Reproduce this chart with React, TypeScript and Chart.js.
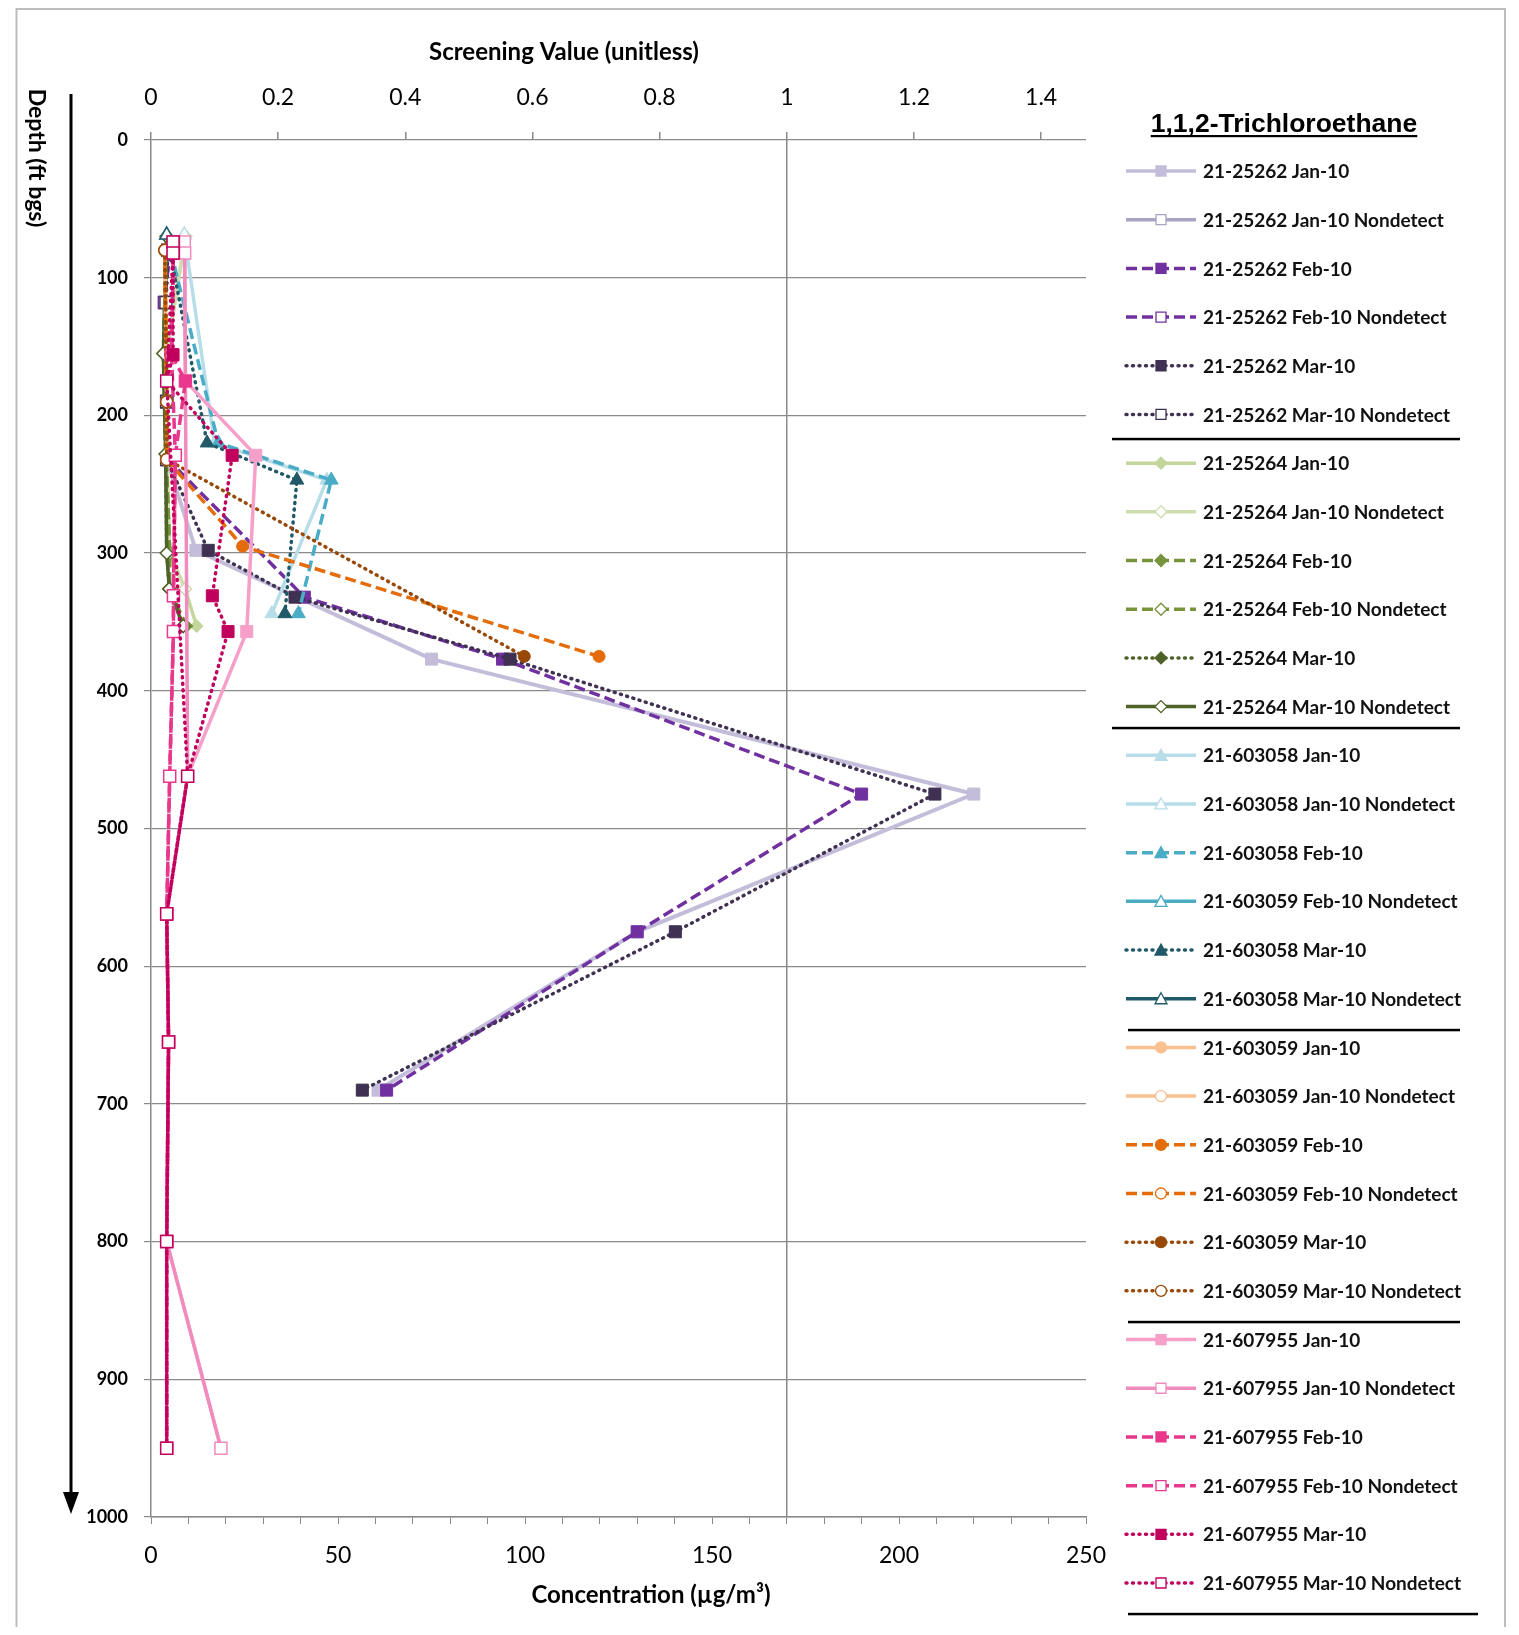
import React, { useEffect, useRef } from 'react';
import { Chart, registerables } from 'chart.js';

Chart.register(...registerables);

// ---------------- DATA ----------------
// Depths (ft bgs) sampled in each well
const depth25262 = [80, 118, 190, 232, 298, 332, 377, 475, 575, 690];
const depth25264 = [70, 155, 228, 300, 326, 353];
const depth603058 = [69, 220, 247, 344];
const depth603059 = [80, 190, 232, 295, 375];
const depth607955 = [74, 82, 156, 175, 229, 331, 357, 462, 562, 655, 800, 950];

// Concentrations (µg/m³); null = not sampled
const conc25262Jan = [4.5, 3.6, 4.2, 4.2, 12, null, 75, 220, 130, 60.7];
const conc25262Feb = [5, 3.6, 4.2, 4.5, null, 41, 94, 190, 130, 63];
const conc25262Mar = [4.5, 4, 4.2, 4.2, 15.3, 38.5, 96, 209.6, 140.2, 56.5];
const conc25264Jan = [9.2, 4.2, 4.2, 5, 9.1, 12.2];
const conc25264Feb = [4.2, 3.3, 4, 5, 4.9, 9.5];
const conc25264Mar = [4.2, 3.3, 3.9, 4.2, 4.9, 8.6];
const conc603058Jan = [8.9, 17, 47, 32.3];
const conc603058Feb = [4.2, 18, 48.2, 39.4];
const conc603058Mar = [4.2, 15, 39, 35.8];
const conc603059Jan = [3.7, 4.2, 4.2, null, null];
const conc603059Feb = [3.7, 4.2, 4.2, 24.5, 119.8];
const conc603059Mar = [3.7, 4.2, 4.2, null, 99.8];
const conc607955Jan = [8.9, 9, null, 9.2, 28, null, 25.6, 9.8, 4.2, 4.7, 4.2, 18.7];
const conc607955Feb = [6, 6, 5.5, 9.2, 6.5, 6, 6, 5, 4.2, 4.7, 4.2, 4.2];
const conc607955Mar = [5.9, 5.9, 5.9, 4.2, 21.7, 16.4, 20.6, 9.8, 4.2, 4.7, 4.2, 4.2];

// Nondetect flags (1 = nondetect)
const nd25262Jan = [1, 1, 1, 1, 0, 0, 0, 0, 0, 0];
const nd25262Feb = [1, 1, 1, 1, 0, 0, 0, 0, 0, 0];
const nd25262Mar = [1, 1, 1, 1, 0, 0, 0, 0, 0, 0];
const nd25264Jan = [1, 1, 1, 1, 1, 0];
const nd25264Feb = [1, 1, 1, 1, 1, 0];
const nd25264Mar = [1, 1, 1, 1, 1, 1];
const nd603058Jan = [1, 0, 0, 0];
const nd603058Feb = [1, 0, 0, 0];
const nd603058Mar = [1, 0, 0, 0];
const nd603059Jan = [1, 1, 1, 0, 0];
const nd603059Feb = [1, 1, 1, 0, 0];
const nd603059Mar = [1, 1, 1, 0, 0];
const nd607955Jan = [1, 1, 0, 1, 0, 0, 0, 1, 1, 1, 1, 1];
const nd607955Feb = [1, 1, 1, 0, 1, 1, 1, 1, 1, 1, 1, 1];
const nd607955Mar = [1, 1, 0, 1, 0, 0, 0, 1, 1, 1, 1, 1];

// Series labels
const labels = [
  '21-25262 Jan-10', '21-25262 Jan-10 Nondetect', '21-25262 Feb-10', '21-25262 Feb-10 Nondetect', '21-25262 Mar-10', '21-25262 Mar-10 Nondetect',
  '21-25264 Jan-10', '21-25264 Jan-10 Nondetect', '21-25264 Feb-10', '21-25264 Feb-10 Nondetect', '21-25264 Mar-10', '21-25264 Mar-10 Nondetect',
  '21-603058 Jan-10', '21-603058 Jan-10 Nondetect', '21-603058 Feb-10', '21-603059 Feb-10 Nondetect', '21-603058 Mar-10', '21-603058 Mar-10 Nondetect',
  '21-603059 Jan-10', '21-603059 Jan-10 Nondetect', '21-603059 Feb-10', '21-603059 Feb-10 Nondetect', '21-603059 Mar-10', '21-603059 Mar-10 Nondetect',
  '21-607955 Jan-10', '21-607955 Jan-10 Nondetect', '21-607955 Feb-10', '21-607955 Feb-10 Nondetect', '21-607955 Mar-10', '21-607955 Mar-10 Nondetect',
];

const xTicksBottom = [0, 50, 100, 150, 200, 250];
const screeningTicks = [0, 0.2, 0.4, 0.6, 0.8, 1, 1.2, 1.4];
const screeningLevel = 170; // µg/m³ corresponding to screening value 1
const chemical = '1,1,2-Trichloroethane';
const topTitle = 'Screening Value (unitless)';
const bottomTitle = 'Concentration (µg/m³)';
const depthTitle = 'Depth (ft bgs)';

// ---------------- STYLES ----------------
const W = 1503;
const H = 1619;
const SOLID: number[] = [];
const DASH = [11, 5];
const DOT = [1, 5.5];

type Style = { color: string; ndColor: string; dash: number[]; ndDash: number[]; ps: string; r: number; w: number };

const styles: Style[] = [
  { color: '#C4BDDA', ndColor: '#A9A3C4', dash: SOLID, ndDash: SOLID, ps: 'rect', r: 8.5, w: 4 },
  { color: '#7030A0', ndColor: '#7030A0', dash: DASH, ndDash: DASH, ps: 'rect', r: 8.5, w: 3.5 },
  { color: '#3F3151', ndColor: '#3F3151', dash: DOT, ndDash: DOT, ps: 'rect', r: 8.5, w: 3.5 },
  { color: '#C3D69B', ndColor: '#CFDEAE', dash: SOLID, ndDash: SOLID, ps: 'rectRot', r: 6.5, w: 3.5 },
  { color: '#77933C', ndColor: '#77933C', dash: DASH, ndDash: DASH, ps: 'rectRot', r: 6.5, w: 3.5 },
  { color: '#4F6228', ndColor: '#4F6228', dash: DOT, ndDash: SOLID, ps: 'rectRot', r: 6.5, w: 3.5 },
  { color: '#B7DEE8', ndColor: '#B7DEE8', dash: SOLID, ndDash: SOLID, ps: 'triangle', r: 8, w: 3.5 },
  { color: '#4BACC6', ndColor: '#4BACC6', dash: DASH, ndDash: SOLID, ps: 'triangle', r: 8, w: 3.5 },
  { color: '#215968', ndColor: '#215968', dash: DOT, ndDash: SOLID, ps: 'triangle', r: 8, w: 3.5 },
  { color: '#FAC090', ndColor: '#FAC090', dash: SOLID, ndDash: SOLID, ps: 'circle', r: 6, w: 3.5 },
  { color: '#E46C0A', ndColor: '#E46C0A', dash: DASH, ndDash: DASH, ps: 'circle', r: 6, w: 3.5 },
  { color: '#984807', ndColor: '#984807', dash: DOT, ndDash: DOT, ps: 'circle', r: 6, w: 3.5 },
  { color: '#F59FC9', ndColor: '#F08CBD', dash: SOLID, ndDash: SOLID, ps: 'rect', r: 8.5, w: 3.5 },
  { color: '#E8378C', ndColor: '#E8378C', dash: DASH, ndDash: DASH, ps: 'rect', r: 8.5, w: 3.5 },
  { color: '#C0005C', ndColor: '#C0005C', dash: DOT, ndDash: DOT, ps: 'rect', r: 8.5, w: 3.5 },
];

const seriesDepths = [
  depth25262, depth25262, depth25262,
  depth25264, depth25264, depth25264,
  depth603058, depth603058, depth603058,
  depth603059, depth603059, depth603059,
  depth607955, depth607955, depth607955,
];
const seriesConc = [
  conc25262Jan, conc25262Feb, conc25262Mar,
  conc25264Jan, conc25264Feb, conc25264Mar,
  conc603058Jan, conc603058Feb, conc603058Mar,
  conc603059Jan, conc603059Feb, conc603059Mar,
  conc607955Jan, conc607955Feb, conc607955Mar,
];
const seriesND = [
  nd25262Jan, nd25262Feb, nd25262Mar,
  nd25264Jan, nd25264Feb, nd25264Mar,
  nd603058Jan, nd603058Feb, nd603058Mar,
  nd603059Jan, nd603059Feb, nd603059Mar,
  nd607955Jan, nd607955Feb, nd607955Mar,
];

function buildDatasets() {
  const out: any[] = [];
  seriesConc.forEach((conc, s) => {
    const st = styles[s];
    const depths = seriesDepths[s];
    const nd = seriesND[s];
    const all: { x: number; y: number }[] = [];
    const radii: number[] = [];
    const ndPts: { x: number; y: number }[] = [];
    conc.forEach((c, k) => {
      if (c === null) return;
      all.push({ x: c, y: depths[k] });
      radii.push(nd[k] ? 0 : st.r);
      if (nd[k]) ndPts.push({ x: c, y: depths[k] });
    });
    out.push({
      label: labels[s * 2],
      data: all,
      showLine: true,
      borderColor: st.color,
      backgroundColor: st.color,
      borderWidth: st.w,
      borderDash: st.dash,
      borderCapStyle: st.dash === DOT ? 'round' : 'butt',
      pointStyle: st.ps,
      pointRadius: radii,
      pointBackgroundColor: st.color,
      pointBorderColor: st.color,
      pointBorderWidth: 1,
      order: 100 - out.length,
    });
    out.push({
      label: labels[s * 2 + 1],
      data: ndPts,
      showLine: true,
      borderColor: st.ndColor,
      backgroundColor: '#ffffff',
      borderWidth: st.w,
      borderDash: st.ndDash,
      borderCapStyle: st.ndDash === DOT ? 'round' : 'butt',
      pointStyle: st.ps,
      pointRadius: st.r,
      pointBackgroundColor: '#ffffff',
      pointBorderColor: st.ndColor,
      pointBorderWidth: 1.5,
      nondetect: true,
      order: 100 - out.length,
    });
  });
  return out;
}

// ---------------- DECORATION (legend, frame, titles, depth arrow) ----------------
const FONT = 'Lato, "Open Sans", sans-serif';

function drawMarker(ctx: CanvasRenderingContext2D, style: string, x: number, y: number, fill: string, stroke: string) {
  ctx.beginPath();
  if (style === 'rect') {
    ctx.rect(x - 5, y - 5, 10, 10);
  } else if (style === 'rectRot') {
    ctx.moveTo(x, y - 6);
    ctx.lineTo(x + 6, y);
    ctx.lineTo(x, y + 6);
    ctx.lineTo(x - 6, y);
    ctx.closePath();
  } else if (style === 'triangle') {
    ctx.moveTo(x, y - 6);
    ctx.lineTo(x + 6, y + 5);
    ctx.lineTo(x - 6, y + 5);
    ctx.closePath();
  } else {
    ctx.arc(x, y, 5.5, 0, Math.PI * 2);
  }
  ctx.fillStyle = fill;
  ctx.fill();
  ctx.lineWidth = 1.3;
  ctx.strokeStyle = stroke;
  ctx.stroke();
}

const decorPlugin = {
  id: 'decor',
  afterDraw(chart: any) {
    const ctx: CanvasRenderingContext2D = chart.ctx;
    ctx.save();
    // outer frame
    ctx.strokeStyle = '#BDBDBD';
    ctx.lineWidth = 2;
    ctx.beginPath();
    ctx.moveTo(8.5, H + 5);
    ctx.lineTo(8.5, 1);
    ctx.lineTo(1497, 1);
    ctx.lineTo(1497, H + 5);
    ctx.stroke();

    // axis titles
    ctx.fillStyle = '#000';
    ctx.textAlign = 'center';
    ctx.textBaseline = 'middle';
    ctx.font = `bold 24px ${FONT}`;
    ctx.fillText(topTitle, 556, 44);
    ctx.fillText(bottomTitle, 643, 1587);

    // depth title (rotated)
    ctx.save();
    ctx.translate(28, 150);
    ctx.rotate(Math.PI / 2);
    ctx.font = `bold 23px ${FONT}`;
    ctx.fillText(depthTitle, 0, 0);
    ctx.restore();

    // arrow
    ctx.strokeStyle = '#000';
    ctx.lineWidth = 3;
    ctx.beginPath();
    ctx.moveTo(63, 86);
    ctx.lineTo(63, 1490);
    ctx.stroke();
    ctx.beginPath();
    ctx.moveTo(55, 1484);
    ctx.lineTo(71, 1484);
    ctx.lineTo(63, 1506);
    ctx.closePath();
    ctx.fill();

    // legend title
    ctx.font = `bold 26.5px "Liberation Sans", Arial, sans-serif`;
    ctx.textAlign = 'center';
    ctx.textBaseline = 'alphabetic';
    const tw = ctx.measureText(chemical).width;
    ctx.fillText(chemical, 1276, 124);
    ctx.fillRect(1276 - tw / 2, 127, tw, 2.2);

    // legend entries
    const y0 = 163;
    const dy = 48.69;
    chart.data.datasets.forEach((ds: any, i: number) => {
      const y = y0 + i * dy;
      ctx.save();
      ctx.strokeStyle = ds.borderColor;
      ctx.lineWidth = Math.min(ds.borderWidth, 3.5);
      ctx.setLineDash(ds.borderDash || []);
      ctx.lineCap = ds.borderCapStyle || 'butt';
      ctx.beginPath();
      ctx.moveTo(1118, y);
      ctx.lineTo(1188, y);
      ctx.stroke();
      ctx.setLineDash([]);
      drawMarker(ctx, ds.pointStyle, 1153, y, ds.nondetect ? '#fff' : ds.pointBackgroundColor, ds.pointBorderColor);
      ctx.restore();
      ctx.fillStyle = '#111';
      ctx.font = `bold 19px ${FONT}`;
      ctx.textAlign = 'left';
      ctx.textBaseline = 'middle';
      ctx.fillText(ds.label, 1195, y + 1);
    });

    // separators
    ctx.fillStyle = '#000';
    const seps = [
      [1104, 1452, 431],
      [1104, 1452, 720],
      [1120, 1452, 1022],
      [1120, 1452, 1314],
      [1120, 1470, 1606],
    ];
    seps.forEach(([x1, x2, y]) => ctx.fillRect(x1, y - 1.2, x2 - x1, 2.5));
    ctx.restore();
  },
};

// ---------------- COMPONENT ----------------
export default function App() {
  const ref = useRef<HTMLCanvasElement>(null);
  useEffect(() => {
    const canvas = ref.current!;
    const chart = new Chart(canvas, {
      type: 'scatter',
      data: { datasets: buildDatasets() },
      options: {
        animation: false,
        responsive: false,
        maintainAspectRatio: false,
        layout: { padding: { left: 0, top: 0, right: 425, bottom: 0 } },
        plugins: { legend: { display: false }, tooltip: { enabled: false } },
        scales: {
          x: {
            type: 'linear',
            position: 'bottom',
            min: 0,
            max: xTicksBottom[xTicksBottom.length - 1],
            ticks: {
              stepSize: 10,
              autoSkip: false,
              maxRotation: 0,
              color: '#000',
              padding: 18,
              font: { family: FONT, size: 23 },
              callback: (v: any) => (xTicksBottom.includes(Number(v)) ? String(v) : ''),
            },
            grid: { drawOnChartArea: false, tickLength: 7, color: '#8A8A8A' },
            border: { color: '#8A8A8A', width: 1.5 },
            afterFit: (s: any) => { s.height = 110; },
          },
          x2: {
            type: 'linear',
            position: 'top',
            min: 0,
            max: xTicksBottom[xTicksBottom.length - 1] / screeningLevel,
            afterBuildTicks: (s: any) => {
              s.ticks = screeningTicks.map((v) => ({ value: v }));
            },
            ticks: {
              autoSkip: false,
              maxRotation: 0,
              color: '#000',
              padding: 21,
              font: { family: FONT, size: 23 },
              callback: (v: any) => String(Number(Number(v).toFixed(1))),
            },
            grid: {
              drawOnChartArea: true,
              tickLength: 8,
              color: (c: any) => (c.tick && Math.abs(c.tick.value - 1) < 1e-6 ? '#8A8A8A' : 'rgba(0,0,0,0)'),
              tickColor: '#8A8A8A',
              lineWidth: 1.5,
            },
            border: { display: false },
            afterFit: (s: any) => { s.height = 132; },
          },
          y: {
            type: 'linear',
            reverse: true,
            min: 0,
            max: 1000,
            ticks: {
              stepSize: 100,
              color: '#000',
              padding: 16,
              font: { family: FONT, size: 18, weight: 'bold' },
              callback: (v: any) => String(v),
            },
            grid: { color: '#8A8A8A', tickLength: 7, lineWidth: 1.2 },
            border: { color: '#8A8A8A', width: 1.5 },
            afterFit: (s: any) => { s.width = 143; },
          },
        },
      } as any,
      plugins: [decorPlugin],
    });
    return () => chart.destroy();
  }, []);
  return (
    <div style={{ width: W, height: H }}>
      <canvas ref={ref} width={W} height={H} style={{ display: 'block', width: W, height: H }} />
    </div>
  );
}
